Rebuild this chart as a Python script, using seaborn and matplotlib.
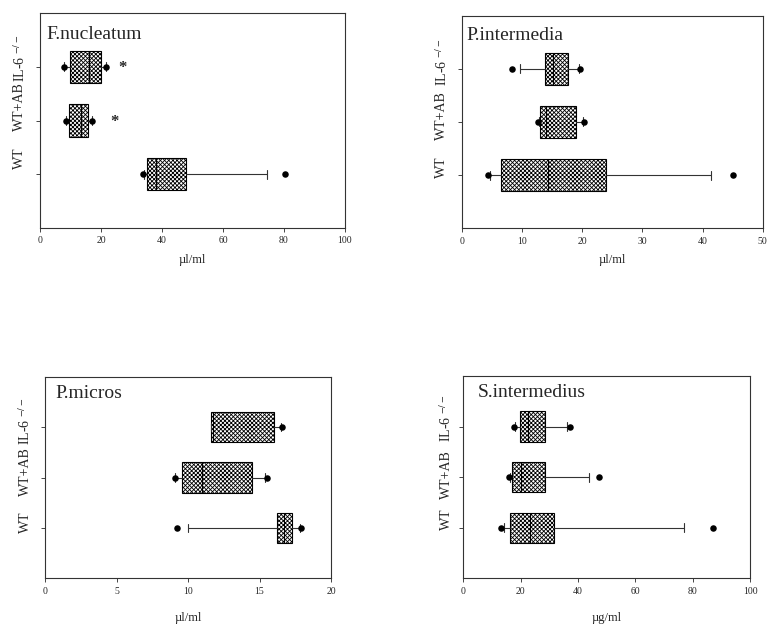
import numpy as np
import pandas as pd
import matplotlib
matplotlib.use("Agg")
import matplotlib.pyplot as plt
import matplotlib.transforms as mtransforms
import seaborn as sns

sns.set_style("ticks")
plt.rcParams['font.family'] = ['Liberation Serif', 'DejaVu Serif']
plt.rcParams['mathtext.fontset'] = 'stix'
plt.rcParams['hatch.linewidth'] = 0.6
plt.rcParams['hatch.color'] = 'black'

groups = ['WT', 'WT+AB', 'IL-6 $^{-/-}$']
positions = [0, 1, 2]

# F.nucleatum  (order: WT, WT+AB, IL-6-/-)
fn_q1 = [35.2, 9.4, 9.8]
fn_med = [38.2, 13.3, 16.0]
fn_q3 = [47.8, 15.6, 19.9]
fn_wlo = [34.1, 8.4, 7.9]
fn_whi = [74.5, 17.2, 21.5]
fn_dlo = [33.7, 8.4, 7.9]
fn_dhi = [80.5, 17.2, 21.5]
fn_star_x = [24.3, 27.1]
fn_star_pos = [1, 2]

# P.intermedia
pi_q1 = [6.5, 13.05, 13.8]
pi_med = [14.4, 13.95, 15.1]
pi_q3 = [23.9, 19.0, 17.7]
pi_wlo = [4.7, 12.8, 9.6]
pi_whi = [41.4, 20.1, 19.4]
pi_dlo = [4.3, 12.7, 8.4]
pi_dhi = [45.1, 20.3, 19.65]

# P.micros
pm_q1 = [16.2, 9.57, 11.6]
pm_med = [16.7, 11.0, 11.75]
pm_q3 = [17.3, 14.47, 16.0]
pm_wlo = [9.97, 9.1, 11.6]
pm_whi = [17.8, 15.36, 16.5]
pm_dlo = [9.26, 9.08, None]
pm_dhi = [17.9, 15.5, 16.6]

# S.intermedius
si_q1 = [16.4, 17.0, 19.7]
si_med = [23.3, 20.2, 22.5]
si_q3 = [31.7, 28.4, 28.4]
si_wlo = [14.1, 16.2, 18.1]
si_whi = [76.9, 44.0, 36.1]
si_dlo = [13.3, 15.8, 17.7]
si_dhi = [87.2, 47.2, 37.2]

panels = [
    dict(title='F.nucleatum', unit='µl/ml', xmax=100, step=20,
         q1=fn_q1, med=fn_med, q3=fn_q3, wlo=fn_wlo, whi=fn_whi, dlo=fn_dlo, dhi=fn_dhi,
         rect=[0.0515, 0.637, 0.393, 0.342], tpos=(0.022, 0.94), labelpad=6, lab_dx=20,
         lab_shift=[16, 14, 8]),
    dict(title='P.intermedia', unit='µl/ml', xmax=50, step=10,
         q1=pi_q1, med=pi_med, q3=pi_q3, wlo=pi_wlo, whi=pi_whi, dlo=pi_dlo, dhi=pi_dhi,
         rect=[0.595, 0.6365, 0.388, 0.3386], tpos=(0.017, 0.945), labelpad=6, lab_dx=20,
         lab_shift=[8, 6, 6]),
    dict(title='P.micros', unit='µl/ml', xmax=20, step=5,
         q1=pm_q1, med=pm_med, q3=pm_q3, wlo=pm_wlo, whi=pm_whi, dlo=pm_dlo, dhi=pm_dhi,
         rect=[0.058, 0.0791, 0.3686, 0.321], tpos=(0.038, 0.96), labelpad=12, lab_dx=20,
         lab_shift=[6, 6, 6]),
    dict(title='S.intermedius', unit='µg/ml', xmax=100, step=20,
         q1=si_q1, med=si_med, q3=si_q3, wlo=si_wlo, whi=si_whi, dlo=si_dlo, dhi=si_dhi,
         rect=[0.597, 0.0791, 0.3695, 0.322], tpos=(0.049, 0.96), labelpad=12, lab_dx=17,
         lab_shift=[9, 3, 8]),
]

fig = plt.figure(figsize=(7.76, 6.28), dpi=100)

for p in panels:
    ax = fig.add_axes(p['rect'])
    stats = []
    for i in range(3):
        stats.append(dict(q1=p['q1'][i], med=p['med'][i], q3=p['q3'][i],
                          whislo=p['wlo'][i], whishi=p['whi'][i], fliers=[], label=groups[i]))
    ax.bxp(stats, positions=positions, widths=0.6, orientation='horizontal',
           patch_artist=True, showfliers=False, capwidths=0.17,
           boxprops=dict(facecolor='white', edgecolor='black', hatch='xxxxxxxx', linewidth=0.8),
           medianprops=dict(color='black', linewidth=0.8),
           whiskerprops=dict(color='#333333', linewidth=0.8),
           capprops=dict(color='#333333', linewidth=0.8))

    dots = pd.DataFrame({
        'value': p['dlo'] + p['dhi'],
        'pos': positions + positions,
    }).dropna()
    sns.scatterplot(data=dots, x='value', y='pos', color='black', s=22,
                    edgecolor='black', linewidth=0, ax=ax, legend=False, zorder=5)

    ax.set_xlim(0, p['xmax'])
    ax.set_ylim(-1, 3)
    ax.set_xticks(np.arange(0, p['xmax'] + 1, p['step']))
    ax.set_yticks(positions)
    ax.set_yticklabels([])
    ax.tick_params(axis='x', labelsize=7, length=3, width=0.6, pad=3)
    ax.tick_params(axis='y', length=3, width=0.6)
    ax.set_xlabel(p['unit'], fontsize=9, labelpad=p['labelpad'])
    ax.set_ylabel('')

    # rotated group labels left of the axis
    base = mtransforms.blended_transform_factory(ax.transAxes, ax.transData)
    for pos, name, sh in zip(positions, groups, p['lab_shift']):
        off = mtransforms.ScaledTranslation(-p['lab_dx'] / 100, sh / 100, fig.dpi_scale_trans)
        ax.text(0, pos, name, transform=base + off, rotation=90,
                ha='center', va='center', fontsize=10)

    for s in ax.spines.values():
        s.set_linewidth(0.8)
        s.set_color('#333333')
    ax.text(p['tpos'][0], p['tpos'][1], p['title'], transform=ax.transAxes,
            fontsize=14, ha='left', va='top')

    if p['title'] == 'F.nucleatum':
        for sx, sp in zip(fn_star_x, fn_star_pos):
            ax.text(sx, sp - 0.02, '*', fontsize=12, fontweight='bold', ha='center', va='center')

fig.savefig('out.png', dpi=100)
